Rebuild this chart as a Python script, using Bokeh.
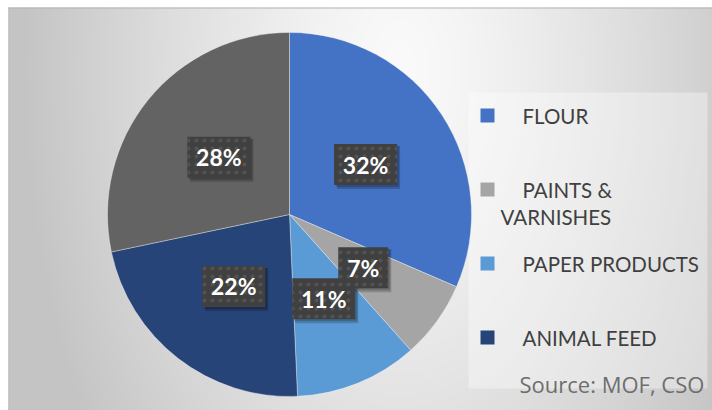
import numpy as np
from bokeh.plotting import figure
from bokeh.models import Range1d, ColumnDataSource
from bokeh.embed import file_html
from bokeh.resources import INLINE
from bokeh.core.properties import value

# ---------------- data ----------------
categories = ["FLOUR", "PAINTS & VARNISHES", "PAPER PRODUCTS", "ANIMAL FEED", "OTHER"]
shares = [31.5, 6.9, 10.9, 22.4, 28.3]
pct_labels = ["32%", "7%", "11%", "22%", "28%"]
legend_lines = [["FLOUR"], ["PAINTS &", "VARNISHES"], ["PAPER PRODUCTS"], ["ANIMAL FEED"]]
source_note = "Source: MOF, CSO"
colors = ["#4472C4", "#A5A5A5", "#5B9BD5", "#264478", "#636363"]

# ---------------- layout ----------------
W, H = 712, 410
def Y(pix):
    return H - pix

p = figure(width=W, height=H, x_range=Range1d(0, W), y_range=Range1d(0, H),
           output_backend="svg", toolbar_location=None, min_border=0)
p.xaxis.visible = False
p.yaxis.visible = False
p.grid.visible = False
p.outline_line_color = None
p.background_fill_color = "white"
p.border_fill_color = "white"
p.min_border_left = p.min_border_right = p.min_border_top = p.min_border_bottom = 0

# background panel with radial gradient
x0, y0 = 8, 7
bw, bh = W - x0, H - y0
rr, cc = np.mgrid[0:bh, 0:bw]
py = H - (rr + 0.5)
px = x0 + cc + 0.5
gcx, gcy, gsx, gsy = 400, 70, 380, 650
d = np.sqrt(((px - gcx) / gsx) ** 2 + ((py - gcy) / gsy) ** 2)
d = np.clip(d, 0, 1)
v = (250 - (250 - 196) * d ** 1.3).astype(np.uint8)
img = np.empty((bh, bw), dtype=np.uint32)
view = img.view(dtype=np.uint8).reshape((bh, bw, 4))
view[:, :, 0] = v
view[:, :, 1] = v
view[:, :, 2] = v
view[:, :, 3] = 255
p.image_rgba(image=[img], x=x0, y=0, dw=bw, dh=bh)
p.line([x0, W], [Y(y0) - 0.5] * 2, line_color="#b4b4b4", line_width=1.2)
p.line([x0 + 0.5] * 2, [0, Y(y0)], line_color="#bdbdbd", line_width=1.2)

# legend panel
p.quad(left=468, right=707, top=Y(92), bottom=Y(388), fill_color="white",
       fill_alpha=0.35, line_color=None)

# pie
cx, cy, R = 289, Y(214), 182
frac = np.array(shares) / np.sum(shares)
cum = np.concatenate([[0.0], np.cumsum(frac)])
start = np.pi / 2 - 2 * np.pi * cum[:-1]
end = np.pi / 2 - 2 * np.pi * cum[1:]
src = ColumnDataSource(dict(start=start, end=end, color=colors, cat=categories))
p.wedge(x=cx, y=cy, radius=R, start_angle="start", end_angle="end", direction="clock",
        fill_color="color", line_color="white", line_width=0.7, line_alpha=0.5, source=src)

# data labels
mid = (start + end) / 2
lx = cx + 0.5 * R * np.cos(mid)
ly = cy + 0.5 * R * np.sin(mid)
bwid = [24 + 13 * len(s) for s in pct_labels]
lsrc = ColumnDataSource(dict(x=lx, y=ly, w=bwid, t=pct_labels,
                             sx=lx + 3, sy=ly - 3, sx2=lx + 2, sy2=ly - 2))
p.rect(x="sx", y="sy", width="w", height=43, fill_color="black", fill_alpha=0.18,
       line_color=None, source=lsrc)
p.rect(x="sx2", y="sy2", width="w", height=41, fill_color="black", fill_alpha=0.18,
       line_color=None, source=lsrc)
p.rect(x="x", y="y", width="w", height=41, fill_color="#404040", line_color=None,
       hatch_pattern="dot", hatch_color="#535353", hatch_scale=8, hatch_weight=1,
       source=lsrc)
p.text(x="x", y="y", text="t", text_color="white", text_font=value("Lato"),
       text_font_style="bold", text_font_size="23px", text_align="center",
       text_baseline="middle", source=lsrc)

# legend
leg_x, leg_text_x, leg_wrap_x = 487, 522, 500
row0, row_step, line_step = 115, 74, 27
mk_y = [Y(row0 + row_step * i) for i in range(len(legend_lines))]
p.rect(x=[leg_x] * len(legend_lines), y=mk_y, width=14, height=14,
       fill_color=colors[:len(legend_lines)], line_color=None)
tx, ty, tt = [], [], []
for i, lines in enumerate(legend_lines):
    for j, s in enumerate(lines):
        tx.append(leg_text_x if j == 0 else leg_wrap_x)
        ty.append(Y(row0 + row_step * i + line_step * j))
        tt.append(s)
p.text(x=tx, y=ty, text=tt, text_color="#404040", text_font=value("Lato"),
       text_font_size="20.5px", text_align="left", text_baseline="middle")

# source note
p.text(x=[519], y=[Y(383)], text=[source_note], text_color="#6e6e6e",
       text_font=value("Open Sans"), text_font_size="22px", text_align="left",
       text_baseline="middle")

open("out.html", "w").write(file_html(p, INLINE))
